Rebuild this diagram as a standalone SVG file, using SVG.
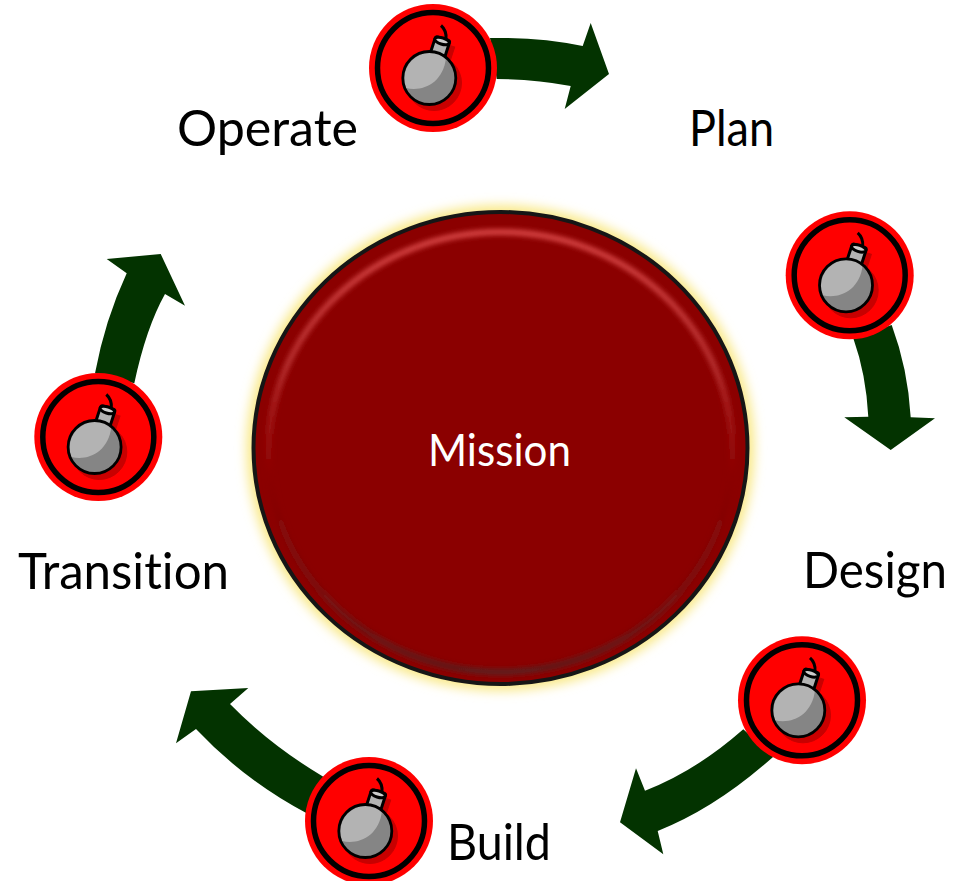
<svg xmlns="http://www.w3.org/2000/svg" width="963" height="881" viewBox="0 0 963 881">
<style>
.arrow{fill:#033300}
.label{font-family:"Lato","Open Sans","Liberation Sans",sans-serif;font-size:51px;fill:#000;font-variant-ligatures:none}
</style>
<defs>
<filter id="halo" x="-10%" y="-10%" width="120%" height="120%"><feGaussianBlur stdDeviation="5.5"/></filter>
<filter id="soft" x="-10%" y="-10%" width="120%" height="120%"><feGaussianBlur stdDeviation="2.4"/></filter>
<linearGradient id="rim" x1="0" y1="0" x2="0" y2="1">
<stop offset="0" stop-color="#d84545"/><stop offset="0.3" stop-color="#b83030"/><stop offset="0.55" stop-color="#8b0000"/><stop offset="0.8" stop-color="#7a1010"/><stop offset="1" stop-color="#5a2020"/>
</linearGradient>
<symbol id="bomb" overflow="visible">
<circle r="64" fill="#f00"/>
<circle r="55.5" fill="none" stroke="#000" stroke-width="5.5"/>
<g fill="#c80000" stroke="#c80000">
<circle cx="1" cy="15" r="27.5"/>
<rect x="-7" y="-10" width="15" height="20" transform="translate(11,-14) rotate(18)"/>
</g>
<path d="M13,-29 C13.5,-35 12,-39 8,-42.5" fill="none" stroke="#000" stroke-width="3"/>
<g stroke="#000" stroke-width="3">
<rect x="-7.5" y="-11" width="15" height="22" rx="2" transform="translate(6.5,-19) rotate(18)" fill="#b3b3b3"/>
<ellipse cx="9" cy="-27" rx="7.5" ry="3.2" transform="rotate(18 9 -27)" fill="#ccc"/>
</g>
<circle cx="-3.7" cy="10" r="26.5" fill="#858585"/>
<path d="M-27,20 C-10,24 10,15 13,-10 A26,26 0 0 0 -27,20 Z" fill="#b3b3b3"/>
<circle cx="-3.7" cy="10" r="26.5" fill="none" stroke="#000" stroke-width="2.8"/>
</symbol>
</defs>

<g id="connectors">
<path class="arrow" d="M490,38 Q540,37 582.7,46 L590.7,23 L609,74 L564.7,109 L570.7,86 Q535,79 496.7,79 Z"/>
<path class="arrow" d="M853.3,338.3 Q866,374 868.3,416.7 L844.3,417.3 L890.7,450 L935,418.3 L910.7,417.3 Q908,369 891.7,325 Z"/>
<path class="arrow" d="M743.3,729.3 Q696,771 645,790.7 L636,768.3 L620,822.3 L663.3,854.3 L657.7,831 Q716,808 773.3,756.7 Z"/>
<path class="arrow" d="M323.3,776.7 Q270,745 230,704 L248.3,688 L191,691.3 L176,743.3 L196,729 Q244,780 306.7,813.3 Z"/>
<path class="arrow" d="M95,373.3 Q105,320 126.7,273.3 L106.7,259 L160.7,254 L185,305.7 L165,294 Q146,328 134.3,383.3 Z"/>
</g>

<g id="mission">
<ellipse cx="500.5" cy="448" rx="254" ry="243" fill="#f9e98a" filter="url(#halo)"/>
<ellipse cx="500.5" cy="448" rx="247" ry="236" fill="#8b0000" stroke="#161616" stroke-width="4"/>
<ellipse cx="500.5" cy="452" rx="232" ry="220" fill="none" stroke="url(#rim)" stroke-width="6" filter="url(#soft)"/>
<text x="428" y="466" font-family="Lato, 'Open Sans', 'Liberation Sans', sans-serif" font-size="45" fill="#fff" textLength="143" lengthAdjust="spacingAndGlyphs">Mission</text>
</g>

<g id="plan"><use href="#bomb" x="433" y="68"/><text class="label" x="689" y="146" textLength="85" lengthAdjust="spacingAndGlyphs">Plan</text></g>
<g id="design"><use href="#bomb" x="849.7" y="275.3"/><text class="label" x="803" y="588" textLength="144" lengthAdjust="spacingAndGlyphs">Design</text></g>
<g id="build"><use href="#bomb" x="802" y="700.3"/><text class="label" x="447" y="860" textLength="104" lengthAdjust="spacingAndGlyphs">Build</text></g>
<g id="transition"><use href="#bomb" x="369" y="821"/><text class="label" x="18" y="589" textLength="211" lengthAdjust="spacingAndGlyphs">Transition</text></g>
<g id="operate"><use href="#bomb" x="98.3" y="437"/><text class="label" x="177" y="146" textLength="181" lengthAdjust="spacingAndGlyphs">Operate</text></g>
</svg>
